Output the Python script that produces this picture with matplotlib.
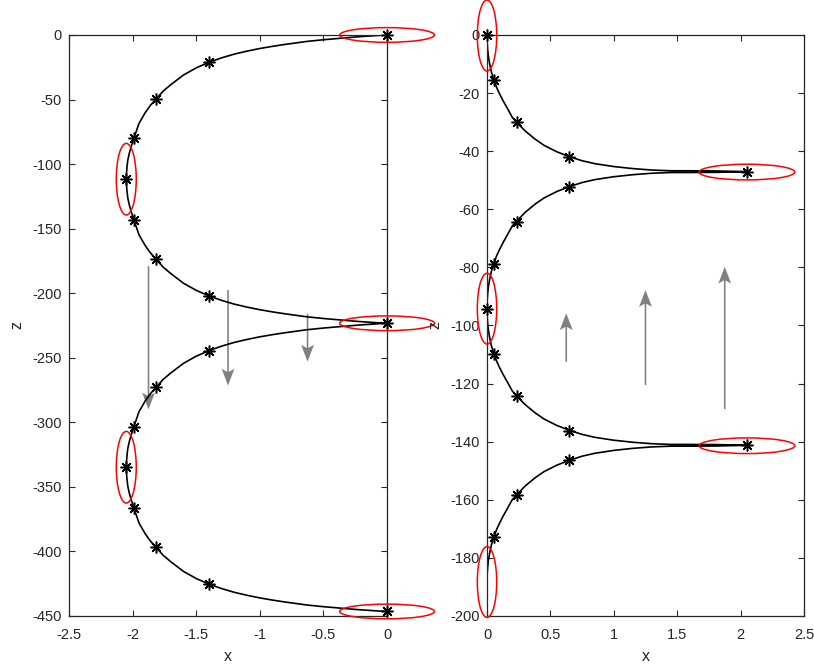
import matplotlib
matplotlib.use('Agg')
import matplotlib.pyplot as plt
from matplotlib.patches import Ellipse

plt.rcParams['font.family'] = ['Liberation Sans', 'DejaVu Sans']
plt.rcParams['axes.unicode_minus'] = False

# ---- left panel: trajectory (x, z) ----
left_x = [0, -0.06, -0.12, -0.19, -0.25, -0.37, -0.5, -0.63, -0.8, -0.9, -1.0, -1.1, -1.2, -1.3, -1.4,
          -1.5, -1.6, -1.7, -1.76, -1.816, -1.86, -1.9, -1.95, -1.99, -2.013, -2.027, -2.038, -2.044,
          -2.048, -2.05,
          -2.048, -2.044, -2.038, -2.027, -2.013, -1.99, -1.95, -1.9, -1.86, -1.816, -1.76, -1.7, -1.6,
          -1.5, -1.4, -1.3, -1.2, -1.1, -1.0, -0.9, -0.8, -0.63, -0.5, -0.37, -0.25, -0.19, -0.12, -0.06, 0,
          -0.06, -0.12, -0.19, -0.25, -0.37, -0.5, -0.63, -0.8, -0.9, -1.0, -1.1, -1.2, -1.3, -1.4,
          -1.5, -1.6, -1.7, -1.76, -1.816, -1.86, -1.9, -1.95, -1.99, -2.013, -2.027, -2.038, -2.044,
          -2.048, -2.05,
          -2.048, -2.044, -2.038, -2.027, -2.013, -1.99, -1.95, -1.9, -1.86, -1.816, -1.76, -1.7, -1.6,
          -1.5, -1.4, -1.3, -1.2, -1.1, -1.0, -0.9, -0.8, -0.63, -0.5, -0.37, -0.25, -0.19, -0.12, -0.06, 0]
left_z = [0, -0.3, -0.7, -1.15, -1.6, -2.6, -3.7, -5.0, -7.3, -8.8, -10.5, -12.5, -14.8, -17.7, -21.2,
          -25.5, -31, -38.5, -43.5, -49.6, -54.5, -60, -68.5, -80, -87, -92, -97, -102,
          -107, -111.6,
          -116.3, -121.3, -126.3, -131.3, -136.3, -143.3, -154.8, -163.3, -168.8, -173.7, -179.8, -184.8, -192.3,
          -197.8, -202.1, -205.6, -208.5, -210.8, -212.8, -214.5, -216.0, -218.3, -219.6, -220.7, -221.7,
          -222.15, -222.6, -223.0, -223.3,
          -223.6, -224.0, -224.45, -224.9, -225.9, -227.0, -228.3, -230.6, -232.1, -233.8, -235.8, -238.1,
          -241.0, -244.5, -248.8, -254.3, -261.8, -266.8, -272.9, -277.8, -283.3, -291.8, -303.3, -310.3,
          -315.3, -320.3, -325.3, -330.3, -334.9,
          -339.5, -344.5, -349.5, -354.5, -359.5, -366.5, -378.0, -386.5, -392.0, -396.9, -403.0, -408.0,
          -415.5, -421.0, -425.3, -428.8, -431.7, -434.0, -436.0, -437.7, -439.2, -441.5, -442.8, -443.9,
          -444.9, -445.35, -445.8, -446.2, -446.5]

left_mark_x = [0, -1.4, -1.816, -1.99, -2.05, -1.99, -1.816, -1.4, 0,
               -1.4, -1.816, -1.99, -2.05, -1.99, -1.816, -1.4, 0]
left_mark_z = [0, -21.2, -49.6, -80, -111.6, -143.3, -173.8, -201.8, -223.3,
               -244.5, -272.6, -303.4, -334.8, -366.6, -396.8, -425.6, -446.5]

left_tip_x = [0, 0, 0]
left_tip_z = [0, -223.3, -446.5]
left_side_x = [-2.05, -2.05]
left_side_z = [-111.7, -334.8]

left_arrow_x = [-1.875, -1.25, -0.625]
left_arrow_z = [-179.0, -197.5, -216.0]
left_arrow_dz = [-111.0, -74.0, -37.0]

# ---- right panel ----
right_x = [0, 0.001, 0.005, 0.011, 0.021, 0.036, 0.055, 0.075, 0.096, 0.125, 0.157, 0.2, 0.234, 0.3,
           0.38, 0.45, 0.55, 0.65, 0.75, 0.85, 1.0, 1.15, 1.3, 1.45, 1.6, 1.8, 2.05,
           1.8, 1.6, 1.45, 1.3, 1.15, 1.0, 0.85, 0.75, 0.65, 0.55, 0.45, 0.38, 0.3, 0.234, 0.2, 0.157,
           0.125, 0.096, 0.075, 0.055, 0.036, 0.021, 0.011, 0.005, 0.001, 0,
           0.001, 0.005, 0.011, 0.021, 0.036, 0.055, 0.075, 0.096, 0.125, 0.157, 0.2, 0.234, 0.3,
           0.38, 0.45, 0.55, 0.65, 0.75, 0.85, 1.0, 1.15, 1.3, 1.45, 1.6, 1.8, 2.05,
           1.8, 1.6, 1.45, 1.3, 1.15, 1.0, 0.85, 0.75, 0.65, 0.55, 0.45, 0.38, 0.3, 0.234, 0.2, 0.157,
           0.125, 0.096, 0.075, 0.055, 0.036, 0.021, 0.011, 0.005, 0.001, 0]
right_z = [0, -2.5, -5, -7.5, -10, -13, -15.5, -18, -20, -22.5, -25, -28.4, -30.1, -33.0,
           -35.9, -38.0, -40.2, -41.9, -43.3, -44.3, -45.3, -46.0, -46.5, -46.75, -46.75, -46.8, -47.05,
           -47.3, -47.35, -47.35, -47.6, -48.1, -48.8, -49.8, -50.8, -52.2, -53.9, -56.1, -58.2, -61.1,
           -64.1, -65.7, -69.1, -71.6, -74.1, -76.1, -78.6, -81.1, -84.1, -86.6, -89.1, -91.6, -94.2,
           -96.7, -99.2, -101.7, -104.2, -107.2, -109.7, -112.2, -114.2, -116.7, -119.2, -122.6, -124.3,
           -127.2, -130.1, -132.2, -134.4, -136.1, -137.5, -138.5, -139.5, -140.2, -140.7, -140.95,
           -140.95, -141.0, -141.25,
           -141.5, -141.55, -141.55, -141.8, -142.3, -143.0, -144.0, -145.0, -146.4, -148.1, -150.3,
           -152.4, -155.3, -158.3, -159.9, -163.3, -165.8, -168.3, -170.3, -172.8, -175.3, -178.3,
           -180.8, -183.3, -185.8, -188.4]

right_mark_x = [0, 0.055, 0.234, 0.65, 2.05, 0.65, 0.234, 0.055, 0,
                0.055, 0.234, 0.65, 2.05, 0.65, 0.234, 0.055]
right_mark_z = [0, -15.5, -30.1, -41.9, -47.1, -52.2, -64.3, -78.7, -94.2,
                -109.7, -124.3, -136.2, -141.3, -146.4, -158.4, -172.8]

right_side_x = [0, 0, 0]
right_side_z = [-0.2, -94.2, -188.3]
right_tip_x = [2.05, 2.05]
right_tip_z = [-47.2, -141.4]

right_arrow_x = [0.625, 1.25, 1.875]
right_arrow_z = [-112.5, -120.5, -128.8]
right_arrow_dz = [16.7, 32.7, 49.0]

axcol = '#262626'


def style_axes(ax):
    ax.tick_params(direction='in', top=True, right=True, length=4.5, width=0.8,
                   labelsize=10.5, colors=axcol)
    ax.tick_params(axis='x', pad=9)
    ax.tick_params(axis='y', pad=5)
    for s in ax.spines.values():
        s.set_color(axcol)
        s.set_linewidth(0.9)
    ax.set_xlabel('x', fontsize=11.5, color=axcol, labelpad=5)
    ax.set_ylabel('z', fontsize=11.5, color=axcol, labelpad=6)


def draw_ellipses(ax, xs, zs, w, h):
    for cx, cz in zip(xs, zs):
        e = Ellipse((cx, cz), w, h, fill=False, edgecolor='red', lw=1.1, clip_on=False, zorder=4)
        ax.add_patch(e)


def draw_panel(ax, cx, cz, mx, mz, ax_x, ax_z, ax_dz):
    ax.quiver(ax_x, ax_z, [0] * len(ax_x), ax_dz, angles='xy', scale_units='xy',
              scale=1, color='#808080', units='dots', width=1.6, headwidth=8, headlength=10.5,
              headaxislength=8.5, zorder=1)
    ax.plot(cx, cz, color='black', lw=1.2, zorder=2)
    ax.plot(mx, mz, ls='none', marker=(8, 2, 0), ms=8.5, mew=1.1, color='black',
            zorder=3, clip_on=False)


fig = plt.figure(figsize=(8.14, 6.71), dpi=100)
ax1 = fig.add_axes([0.0848, 0.082, 0.3907, 0.8659])
ax2 = fig.add_axes([0.5983, 0.082, 0.3894, 0.8659])

# left
draw_panel(ax1, left_x, left_z, left_mark_x, left_mark_z, left_arrow_x, left_arrow_z, left_arrow_dz)
draw_ellipses(ax1, left_tip_x, left_tip_z, 0.745, 11.4)
draw_ellipses(ax1, left_side_x, left_side_z, 0.157, 55.5)
ax1.set_xlim(-2.5, 0)
ax1.set_ylim(-450, 0)
ax1.set_xticks([-2.5, -2, -1.5, -1, -0.5, 0])
ax1.set_xticklabels(['-2.5', '-2', '-1.5', '-1', '-0.5', '0'])
ax1.set_yticks(range(-450, 1, 50))
style_axes(ax1)

# right
draw_panel(ax2, right_x, right_z, right_mark_x, right_mark_z, right_arrow_x, right_arrow_z, right_arrow_dz)
draw_ellipses(ax2, right_side_x, right_side_z, 0.153, 24.4)
draw_ellipses(ax2, right_tip_x, right_tip_z, 0.755, 5.4)
ax2.set_xlim(0, 2.5)
ax2.set_ylim(-200, 0)
ax2.set_xticks([0, 0.5, 1, 1.5, 2, 2.5])
ax2.set_xticklabels(['0', '0.5', '1', '1.5', '2', '2.5'])
ax2.set_yticks(range(-200, 1, 20))
style_axes(ax2)

fig.savefig('out.png', dpi=100)
